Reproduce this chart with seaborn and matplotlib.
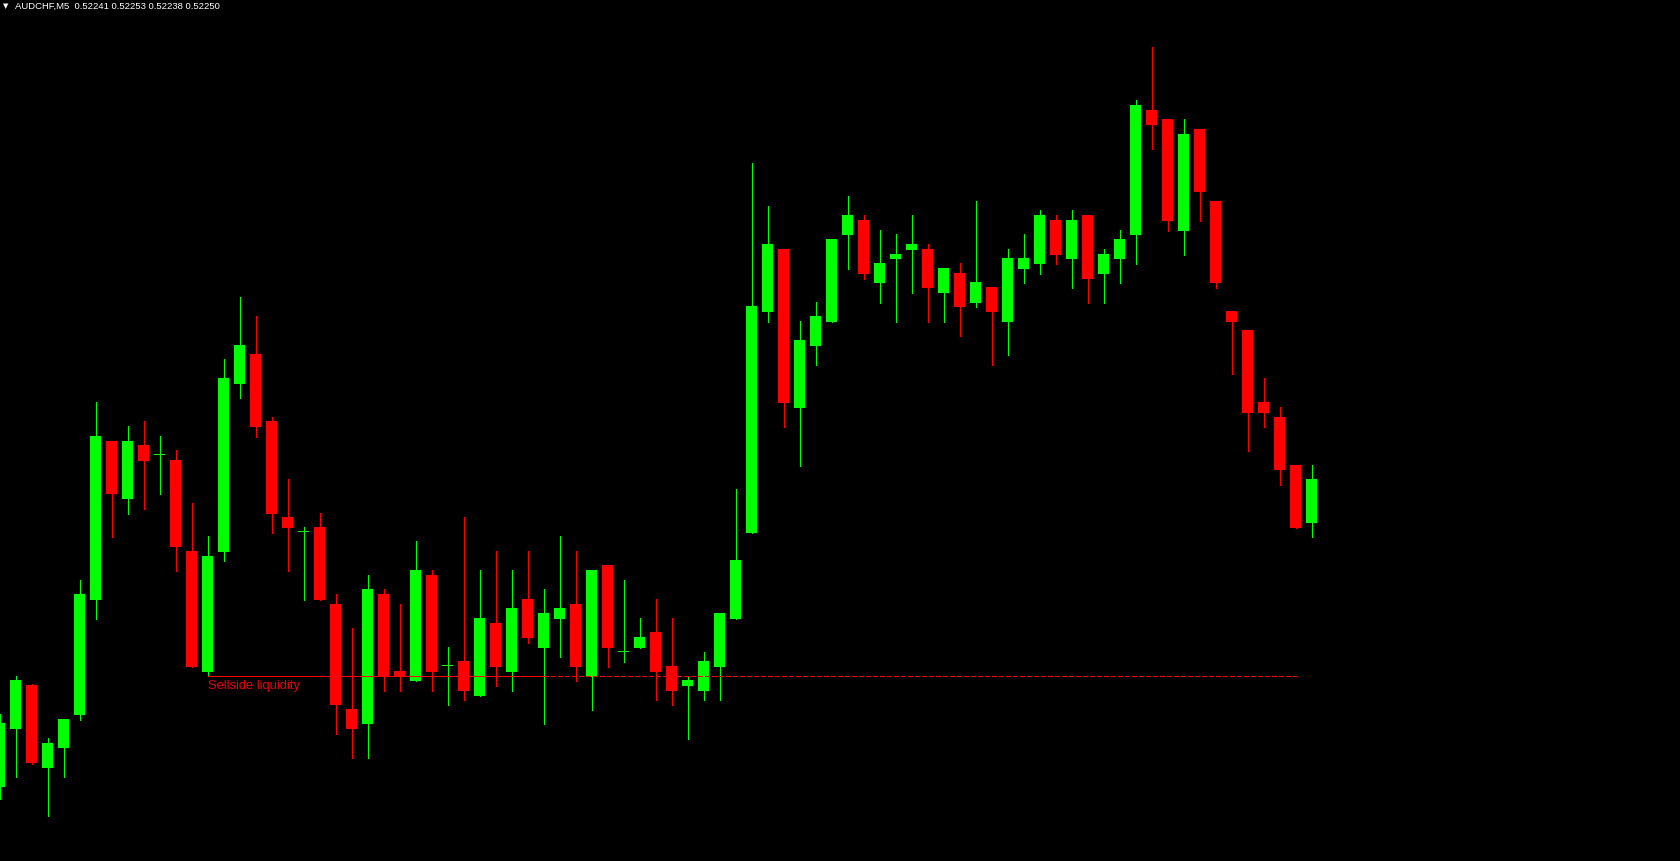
import numpy as np
import pandas as pd

import seaborn as sns
import matplotlib
matplotlib.use('Agg')
import matplotlib.pyplot as plt

# AUDCHF M5 candles, oldest first (the first one is cut by the left edge)
opens = [0.521884, 0.522000, 0.522088, 0.521922, 0.521962, 0.522028, 0.522258, 0.522576, 0.522460, 0.522568,
         0.522548, 0.522538, 0.522356, 0.522114, 0.522354, 0.522690, 0.522750, 0.522616, 0.522424, 0.522394,
         0.522404, 0.522250, 0.522040, 0.522010, 0.522270, 0.522116, 0.522096, 0.522308, 0.522126, 0.522136,
         0.522066, 0.522212, 0.522114, 0.522260, 0.522162, 0.522220, 0.522250, 0.522104, 0.522328, 0.522154,
         0.522162, 0.522194, 0.522126, 0.522086, 0.522076, 0.522124, 0.522220, 0.522392, 0.522834, 0.522960,
         0.522642, 0.522766, 0.522814, 0.522988, 0.523018, 0.522892, 0.522940, 0.522958, 0.522960, 0.522872,
         0.522912, 0.522852, 0.522884, 0.522814, 0.522920, 0.522930, 0.523018, 0.522940, 0.523028, 0.522910,
         0.522940, 0.522988, 0.523238, 0.523220, 0.522996, 0.523200, 0.523056, 0.522836, 0.522798, 0.522654,
         0.522624, 0.522528, 0.522412]
highs = [0.522030, 0.522106, 0.522090, 0.521982, 0.522020, 0.522298, 0.522654, 0.522576, 0.522606, 0.522616,
         0.522586, 0.522558, 0.522452, 0.522386, 0.522740, 0.522864, 0.522826, 0.522624, 0.522500, 0.522404,
         0.522432, 0.522270, 0.522202, 0.522308, 0.522280, 0.522250, 0.522376, 0.522318, 0.522164, 0.522424,
         0.522318, 0.522356, 0.522318, 0.522356, 0.522280, 0.522386, 0.522356, 0.522318, 0.522328, 0.522298,
         0.522222, 0.522260, 0.522222, 0.522104, 0.522154, 0.522232, 0.522480, 0.523132, 0.523046, 0.522960,
         0.522816, 0.522854, 0.522980, 0.523066, 0.523028, 0.522998, 0.522990, 0.523028, 0.522970, 0.522922,
         0.522932, 0.523056, 0.522884, 0.522960, 0.522990, 0.523038, 0.523028, 0.523038, 0.523028, 0.522960,
         0.522998, 0.523258, 0.523364, 0.523220, 0.523220, 0.523200, 0.523056, 0.522836, 0.522798, 0.522702,
         0.522644, 0.522528, 0.522528]
lows = [0.521860, 0.521904, 0.521930, 0.521826, 0.521904, 0.522018, 0.522220, 0.522384, 0.522430, 0.522440,
        0.522470, 0.522316, 0.522124, 0.522106, 0.522336, 0.522662, 0.522584, 0.522392, 0.522316, 0.522258,
        0.522258, 0.521990, 0.521942, 0.521942, 0.522076, 0.522076, 0.522096, 0.522076, 0.522048, 0.522058,
        0.522066, 0.522086, 0.522076, 0.522172, 0.522010, 0.522144, 0.522096, 0.522038, 0.522124, 0.522134,
        0.522162, 0.522058, 0.522048, 0.521980, 0.522058, 0.522058, 0.522220, 0.522392, 0.522814, 0.522604,
        0.522526, 0.522728, 0.522814, 0.522920, 0.522900, 0.522852, 0.522814, 0.522872, 0.522814, 0.522814,
        0.522786, 0.522844, 0.522728, 0.522748, 0.522892, 0.522910, 0.522930, 0.522882, 0.522852, 0.522852,
        0.522892, 0.522930, 0.523160, 0.522996, 0.522948, 0.523016, 0.522882, 0.522710, 0.522556, 0.522604,
        0.522488, 0.522402, 0.522384]
closes = [0.522012, 0.522098, 0.521932, 0.521972, 0.522020, 0.522270, 0.522586, 0.522470, 0.522576, 0.522536,
          0.522548, 0.522364, 0.522124, 0.522346, 0.522702, 0.522768, 0.522604, 0.522430, 0.522402, 0.522394,
          0.522258, 0.522048, 0.522000, 0.522280, 0.522106, 0.522106, 0.522318, 0.522114, 0.522126, 0.522076,
          0.522222, 0.522124, 0.522242, 0.522182, 0.522232, 0.522242, 0.522124, 0.522318, 0.522162, 0.522154,
          0.522184, 0.522114, 0.522076, 0.522098, 0.522136, 0.522232, 0.522338, 0.522846, 0.522970, 0.522652,
          0.522778, 0.522826, 0.522980, 0.523028, 0.522910, 0.522932, 0.522950, 0.522970, 0.522882, 0.522922,
          0.522844, 0.522894, 0.522834, 0.522942, 0.522942, 0.523028, 0.522948, 0.523018, 0.522900, 0.522950,
          0.522980, 0.523248, 0.523208, 0.523016, 0.523190, 0.523074, 0.522892, 0.522814, 0.522632, 0.522632,
          0.522518, 0.522402, 0.522500]

# sellside liquidity level: drawn from bar 13, swept at bar 34, projected to bar 81
liq_level = 0.522106
liq_start, liq_sweep, liq_end = 13, 34, 81
liq_label = 'Sellside liquidity'

header = 'AUDCHF,M5  0.52241 0.52253 0.52238 0.52250'

bull_color = '#00ff00'
bear_color = '#ff0000'


def create_plot():
    df = pd.DataFrame({'open': opens, 'high': highs, 'low': lows, 'close': closes})
    df['pos'] = np.arange(len(df))
    df['bull'] = df['close'] >= df['open']
    df['color'] = np.where(df['bull'], bull_color, bear_color)
    df['body_lo'] = df[['open', 'close']].min(axis=1)
    df['body_h'] = (df['close'] - df['open']).abs().clip(lower=2e-6)

    sns.set_theme(style='dark', rc={'axes.facecolor': 'black', 'figure.facecolor': 'black',
                                    'lines.scale_dashes': False})
    plt.rcParams['font.family'] = ['Liberation Sans', 'DejaVu Sans']

    fig = plt.figure(figsize=(16.8, 8.62), dpi=100)
    ax = fig.add_axes([0, 0, 1, 1])
    ax.set_facecolor('black')

    # wicks then bodies, crisp like the terminal
    ax.vlines(df['pos'], df['low'], df['high'], colors=df['color'], linewidth=0.72,
              antialiased=False)
    ax.bar(df['pos'], df['body_h'], bottom=df['body_lo'], width=0.6875,
           color=df['color'], linewidth=0, antialiased=False)

    # liquidity line: solid until the sweep, dashed afterwards
    ax.hlines(liq_level, liq_start, liq_sweep, color=bear_color, linewidth=0.72, antialiased=False)
    ax.hlines(liq_level, liq_sweep, liq_end, color=bear_color, linewidth=0.72,
              linestyles=(0, (2.9, 1.5)), antialiased=False)
    ax.text(liq_start + 0.03, liq_level - 6e-6, liq_label, color='#e80000',
            fontsize=9.3, ha='left', va='top')

    ax.set_xlim(0.031, 105.03)
    ax.set_ylim(0.521736, 0.523460)
    ax.set_axis_off()

    fig.text(3 / 1680, 1 - 3 / 862, '\u25bc', color='white', fontsize=5, ha='left', va='top',
             family=['DejaVu Sans'])
    fig.text(15 / 1680, 1 - 2 / 862, header, color='white', fontsize=6.8, ha='left', va='top')

    plt.savefig('out.png', dpi=100, facecolor='black')


if __name__ == '__main__':
    create_plot()
